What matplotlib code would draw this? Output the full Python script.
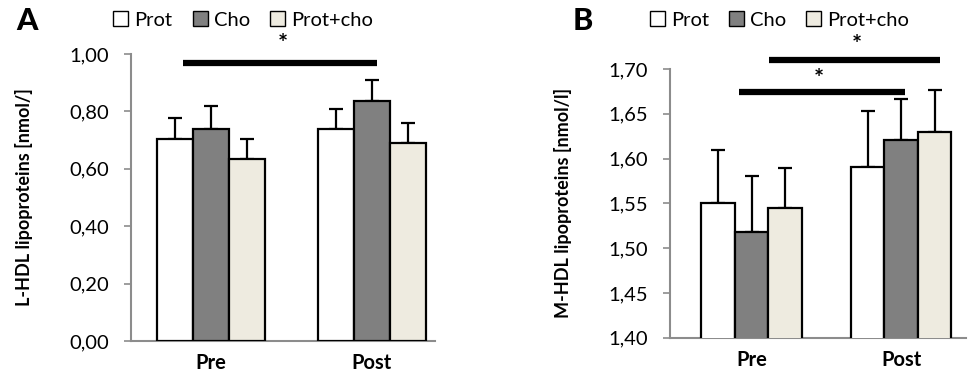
import numpy as np
import matplotlib
matplotlib.use('Agg')
import matplotlib.pyplot as plt
from matplotlib.patches import Patch

plt.rcParams['font.family'] = ['Lato', 'DejaVu Sans']

groups = ['Pre', 'Post']
series = ['Prot', 'Cho', 'Prot+cho']
colors = ['#ffffff', '#808080', '#eeebe0']

# Panel A: L-HDL lipoproteins
lhdl_mean = {'Prot': [0.703, 0.738], 'Cho': [0.739, 0.837], 'Prot+cho': [0.635, 0.690]}
lhdl_sd = {'Prot': [0.073, 0.071], 'Cho': [0.080, 0.073], 'Prot+cho': [0.068, 0.071]}

# Panel B: M-HDL lipoproteins
mhdl_mean = {'Prot': [1.550, 1.591], 'Cho': [1.518, 1.621], 'Prot+cho': [1.545, 1.630]}
mhdl_sd = {'Prot': [0.060, 0.062], 'Cho': [0.063, 0.046], 'Prot+cho': [0.045, 0.046]}

AXIS_GREY = '#8c8c8c'


def draw_bars(ax, means, sds, width):
    x = np.arange(len(groups))
    for i, s in enumerate(series):
        pos = x + (i - 1) * width
        ax.bar(pos, means[s], width, color=colors[i], edgecolor='black',
               linewidth=1.6, zorder=3)
        ax.errorbar(pos, means[s], yerr=[np.zeros(len(groups)), sds[s]],
                    fmt='none', ecolor='black', elinewidth=1.6, capsize=5,
                    capthick=1.6, zorder=2)
    ax.set_xticks(x)
    ax.set_xticklabels(groups, fontsize=14.5, fontweight='bold')
    ax.tick_params(axis='x', length=0, pad=9)
    ax.tick_params(axis='y', direction='out', length=5, color=AXIS_GREY,
                   width=1.2, labelsize=14.5, pad=11)
    for side in ['top', 'right']:
        ax.spines[side].set_visible(False)
    for side in ['left', 'bottom']:
        ax.spines[side].set_color(AXIS_GREY)
        ax.spines[side].set_linewidth(1.5)


def sig_line(ax, x0, x1, y, ys, xs):
    ax.plot([x0, x1], [y, y], color='black', linewidth=4.5, clip_on=False,
            solid_capstyle='butt', zorder=5)
    ax.text(xs, ys, '*', ha='center', va='center', fontsize=17,
            fontweight='bold')


def fmt_comma(v, digits):
    return f'{v:.{digits}f}'.replace('.', ',')


fig = plt.figure(figsize=(9.68, 3.78), dpi=100)

# ---- Panel A
axA = fig.add_axes([0.1353, 0.0979, 0.3137, 0.7591])
draw_bars(axA, lhdl_mean, lhdl_sd, 0.224)
axA.set_xlim(-0.50, 1.39)
axA.set_ylim(0, 1.0)
ticksA = np.arange(0, 1.01, 0.2)
axA.set_yticks(ticksA)
axA.set_yticklabels([fmt_comma(t, 2) for t in ticksA])
axA.set_ylabel('L-HDL lipoproteins [nmol/]', fontsize=13, fontweight='bold',
               labelpad=26)
sig_line(axA, -0.178, 1.031, 0.970, 1.034, 0.445)

# ---- Panel B
axB = fig.add_axes([0.692, 0.1066, 0.306, 0.7109])
draw_bars(axB, mhdl_mean, mhdl_sd, 0.224)
axB.set_xlim(-0.547, 1.435)
axB.set_ylim(1.40, 1.70)
ticksB = np.arange(1.40, 1.701, 0.05)
axB.set_yticks(ticksB)
axB.set_yticklabels([fmt_comma(t, 2) for t in ticksB])
axB.set_ylabel('M-HDL lipoproteins [nmol/l]', fontsize=13, fontweight='bold',
               labelpad=26)
sig_line(axB, 0.116, 1.261, 1.710, 1.726, 0.705)
sig_line(axB, -0.085, 1.026, 1.674, 1.688, 0.451)

# legends
handles = [Patch(facecolor=c, edgecolor='black', linewidth=1.0) for c in colors]
for x0 in [0.117, 0.671]:
    fig.legend(handles, series, loc='center left', bbox_to_anchor=(x0, 0.947),
               ncol=3, frameon=False, fontsize=14.5, handlelength=0.75,
               handleheight=0.75, handletextpad=0.3, columnspacing=1.0,
               borderpad=0, borderaxespad=0)

# panel letters
fig.text(0.017, 0.945, 'A', fontsize=22, fontweight='black', ha='left', va='center')
fig.text(0.592, 0.945, 'B', fontsize=22, fontweight='black', ha='left', va='center')

fig.savefig('out.png', dpi=100)
